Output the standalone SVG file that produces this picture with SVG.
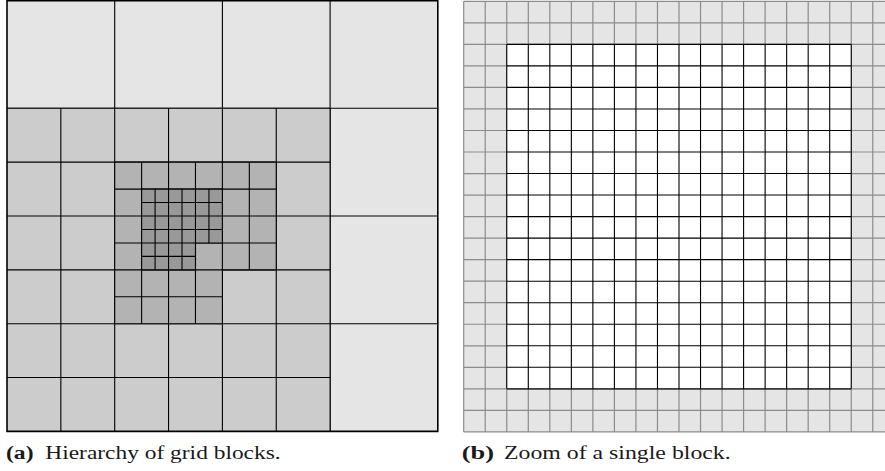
<svg xmlns="http://www.w3.org/2000/svg" width="885" height="471" viewBox="0 0 885 471">
<style>
.ln{fill:none;stroke:#000;stroke-width:1.1;vector-effect:non-scaling-stroke}
.gl{fill:none;stroke:#8c8c8c;stroke-width:1.2;vector-effect:non-scaling-stroke}
.bd{fill:none;stroke:#000;stroke-width:1.6;vector-effect:non-scaling-stroke}
.cap{font-family:"Liberation Serif","DejaVu Serif",serif;font-size:18px;fill:#1a1a1a}
</style>
<rect width="885" height="471" fill="#fff"/>
<g id="panel-a" transform="translate(7,0.6) scale(13.4625)">
  <g id="level0">
    <rect x="0" y="0" width="32" height="32" fill="#e5e5e5"/>
    <path class="ln" d="M8,0V8M16,0V8M24,0V32M0,8H32M24,16H32M24,24H32"/>
  </g>
  <g id="level1">
    <rect x="0" y="8" width="24" height="24" fill="#cccccc"/>
    <path class="ln" d="M4,8V32M8,8V32M12,8V32M16,8V32M20,8V32M0,12H24M0,16H24M0,20H24M0,24H24M0,28H24M0,8H24M24,8V32"/>
  </g>
  <g id="level2">
    <path d="M8,12H20V20H16V24H8Z" fill="#b3b3b3"/>
    <path class="ln" d="M10,12V24M12,12V24M14,12V24M16,12V20M18,12V20M8,14H20M8,16H20M8,18H20M8,20H16M8,22H16"/>
    <path class="ln" d="M8,12H20V20H16V24H8Z"/>
  </g>
  <g id="level3">
    <path d="M10,14H16V18H14V20H10Z" fill="#999999"/>
    <path class="ln" d="M11,14V20M12,14V20M13,14V20M14,14V18M15,14V18M10,15H16M10,16H16M10,17H16M10,18H14M10,19H14"/>
    <path class="ln" d="M10,14H16V18H14V20H10Z"/>
  </g>
  <rect class="bd" x="0" y="0" width="32" height="32"/>
</g>
<g id="panel-b" transform="translate(463.7,1.3) scale(21.53)">
  <g id="ghost">
    <rect x="0" y="0" width="20" height="20" fill="#e5e5e5"/>
    <path class="gl" d="M0,0V20M1,0V20M2,0V20M3,0V20M4,0V20M5,0V20M6,0V20M7,0V20M8,0V20M9,0V20M10,0V20M11,0V20M12,0V20M13,0V20M14,0V20M15,0V20M16,0V20M17,0V20M18,0V20M19,0V20M20,0V20M0,0H20M0,1H20M0,2H20M0,3H20M0,4H20M0,5H20M0,6H20M0,7H20M0,8H20M0,9H20M0,10H20M0,11H20M0,12H20M0,13H20M0,14H20M0,15H20M0,16H20M0,17H20M0,18H20M0,19H20M0,20H20"/>
  </g>
  <g id="interior">
    <rect x="2" y="2" width="16" height="16" fill="#fff"/>
    <path class="ln" d="M2,2V18M3,2V18M4,2V18M5,2V18M6,2V18M7,2V18M8,2V18M9,2V18M10,2V18M11,2V18M12,2V18M13,2V18M14,2V18M15,2V18M16,2V18M17,2V18M18,2V18M2,2H18M2,3H18M2,4H18M2,5H18M2,6H18M2,7H18M2,8H18M2,9H18M2,10H18M2,11H18M2,12H18M2,13H18M2,14H18M2,15H18M2,16H18M2,17H18M2,18H18"/>
  </g>
</g>
<g id="captions">
  <text class="cap" x="6" y="459" font-weight="bold" textLength="27.5" lengthAdjust="spacingAndGlyphs">(a)</text>
  <text class="cap" x="45.3" y="459" textLength="235.4" lengthAdjust="spacingAndGlyphs">Hierarchy of grid blocks.</text>
  <text class="cap" x="461.7" y="459" font-weight="bold" textLength="32.3" lengthAdjust="spacingAndGlyphs">(b)</text>
  <text class="cap" x="504" y="459" textLength="226.7" lengthAdjust="spacingAndGlyphs">Zoom of a single block.</text>
</g>
</svg>
